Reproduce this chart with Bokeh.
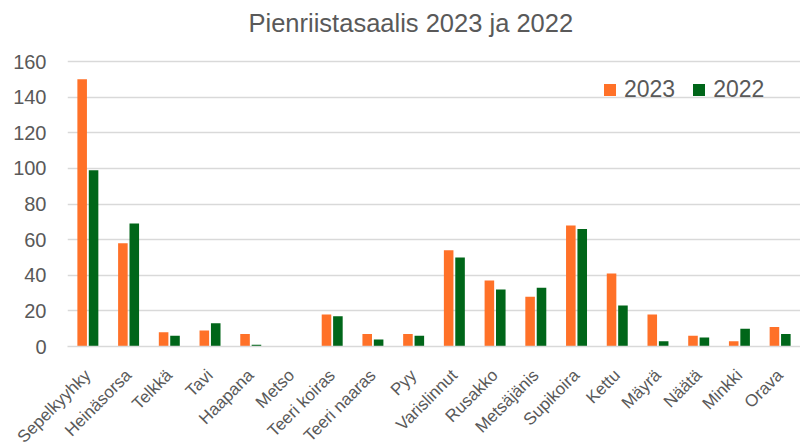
from bokeh.plotting import figure
from bokeh.models import ColumnDataSource, FactorRange, Legend, LegendItem, Label
from bokeh.transform import dodge
from bokeh.embed import file_html
from bokeh.resources import INLINE
import math

categories = ["Sepelkyyhky", "Heinäsorsa", "Telkkä", "Tavi", "Haapana", "Metso",
              "Teeri koiras", "Teeri naaras", "Pyy", "Varislinnut", "Rusakko",
              "Metsäjänis", "Supikoira", "Kettu", "Mäyrä", "Näätä", "Minkki", "Orava"]
values_2023 = [150, 58, 8, 9, 7, 0, 18, 7, 7, 54, 37, 28, 68, 41, 18, 6, 3, 11]
values_2022 = [99, 69, 6, 13, 1, 0, 17, 4, 6, 50, 32, 33, 66, 23, 3, 5, 10, 7]
series_names = ["2023", "2022"]
y_ticks = [0, 20, 40, 60, 80, 100, 120, 140, 160]
title_text = "Pienriistasaalis 2023 ja 2022"

TEXT = "#595959"
GRID = "#d9d9d9"
ORANGE = "#FF7128"
GREEN = "#006619"
FONT = "Liberation Sans"

# frame extends above the 160 gridline so the title can sit inside it
Y_TOP = 160 + 61 * 160 / 285

source = ColumnDataSource(dict(cat=categories, v2023=values_2023, v2022=values_2022))

p = figure(x_range=FactorRange(*categories), y_range=(0, Y_TOP),
           frame_width=733, frame_height=346,
           min_border_left=67, min_border_top=0, min_border_right=0, min_border_bottom=0,
           output_backend="svg", toolbar_location=None)

p.outline_line_color = None
p.background_fill_color = "white"

r1 = p.vbar(x=dodge("cat", -0.14, range=p.x_range), top="v2023", width=0.235,
            source=source, fill_color=ORANGE, line_color=None)
r2 = p.vbar(x=dodge("cat", 0.14, range=p.x_range), top="v2022", width=0.235,
            source=source, fill_color=GREEN, line_color=None)

# title
title = Label(x=181, y=160 + 39 * 160 / 285, x_units="screen", y_units="data",
              text=title_text, text_font=FONT, text_font_size="25.5px",
              text_color=TEXT, text_align="left", text_baseline="middle")
p.add_layout(title)

# axes
p.yaxis.ticker = y_ticks
p.yaxis.axis_line_color = None
p.yaxis.major_tick_line_color = None
p.yaxis.minor_tick_line_color = None
p.yaxis.major_label_text_font = FONT
p.yaxis.major_label_text_font_size = "20px"
p.yaxis.major_label_text_color = TEXT
p.yaxis.major_label_standoff = 15

p.xaxis.axis_line_color = GRID
p.xaxis.axis_line_width = 1.5
p.xaxis.major_tick_line_color = None
p.xaxis.minor_tick_line_color = None
p.xaxis.major_label_orientation = math.pi / 4
p.xaxis.major_label_text_font = FONT
p.xaxis.major_label_text_font_size = "17px"
p.xaxis.major_label_text_color = TEXT
p.xaxis.major_label_standoff = 20

p.xgrid.grid_line_color = None
p.ygrid.grid_line_color = GRID
p.ygrid.grid_line_width = 1.5

legend = Legend(items=[LegendItem(label=series_names[0], renderers=[r1]),
                       LegendItem(label=series_names[1], renderers=[r2])],
                orientation="horizontal", location=(535, 243))
legend.border_line_color = None
legend.background_fill_alpha = 0
legend.label_text_font = FONT
legend.label_text_font_size = "23px"
legend.label_text_color = TEXT
legend.glyph_width = 15
legend.glyph_height = 15
legend.label_standoff = 7
legend.spacing = 16
legend.padding = 0
legend.margin = 0
p.add_layout(legend, "center")

open("out.html", "w").write(file_html(p, INLINE))
